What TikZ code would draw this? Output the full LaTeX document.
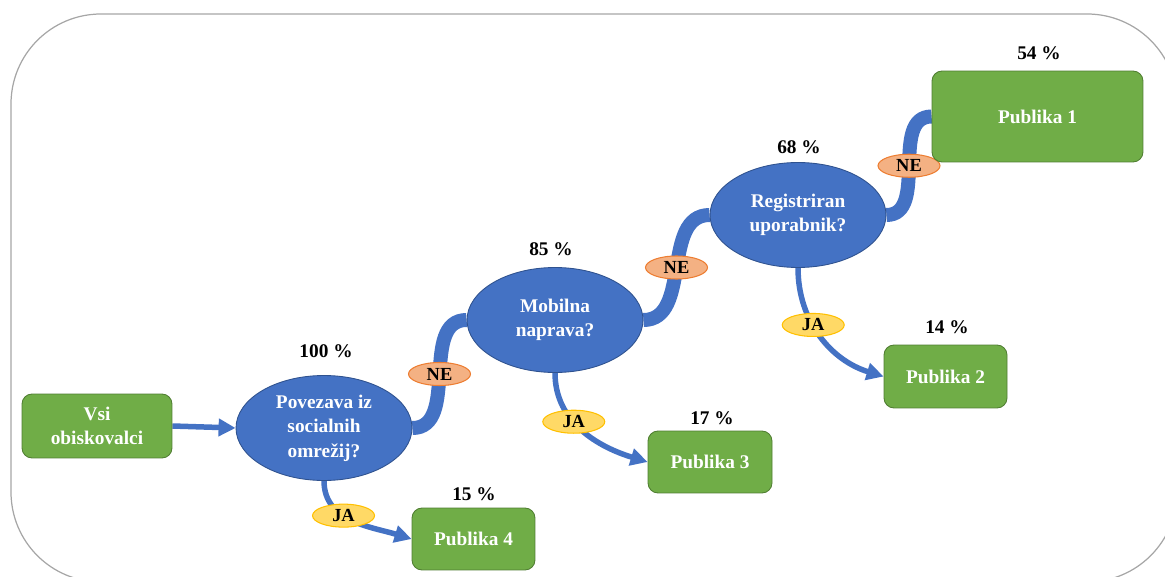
\documentclass[tikz,border=0pt]{standalone}
\usepackage{fontspec}
\setmainfont{Liberation Serif}
\usetikzlibrary{shapes,arrows.meta,positioning,backgrounds}
\definecolor{boxgreen}{HTML}{70AD47}
\definecolor{boxline}{HTML}{507E32}
\definecolor{qblue}{HTML}{4472C4}
\definecolor{qline}{HTML}{2F528F}
\definecolor{nofill}{HTML}{F4B183}
\definecolor{noline}{HTML}{ED7D31}
\definecolor{yesfill}{HTML}{FFD966}
\definecolor{yesline}{HTML}{FFC000}

\begin{document}
\begin{tikzpicture}
[x=0.02cm,y=-0.02cm,
font=\fontsize{11}{14}\selectfont\bfseries,
%
box/.style={shape=rectangle,rounded corners=0.2cm,draw=boxline,fill=boxgreen,text=white,align=center,line width=0.5pt},
question/.style={shape=ellipse,draw=qline,fill=qblue,text=white,align=center,inner sep=0pt,minimum width=3.52cm,minimum height=2.1cm,line width=0.5pt},
pct/.style={text=black,inner sep=1pt},
answer/.style={shape=ellipse,inner sep=0pt,minimum width=1.24cm,minimum height=0.46cm,line width=0.6pt,text=black,font=\fontsize{10.5}{12}\selectfont\bfseries},
nolabel/.style={answer,draw=noline,fill=nofill},
yeslabel/.style={answer,draw=yesline,fill=yesfill},
%
noedge/.style={draw=qblue,line width=0.28cm},
yesedge/.style={draw=qblue,line width=0.11cm,-{Triangle[length=0.34cm,width=0.34cm]}}]
%
\useasboundingbox (0,0) rectangle (1165,577);
%
% start
\node (vsi) [box,minimum width=3cm,minimum height=1.28cm] at (97,426) {Vsi\\obiskovalci};
% questions
\node (q1) [question] at (324,428) {Povezava iz\\socialnih\\omrežij?};
\node (q2) [question] at (555,320) {Mobilna\\naprava?};
\node (q3) [question] at (798,215) {Registriran\\uporabnik?};
% audiences
\node (p1) [box,minimum width=4.22cm,minimum height=1.82cm] at (1037.5,116.5) {Publika 1};
\node (p2) [box,minimum width=2.46cm,minimum height=1.26cm] at (945.5,376.5) {Publika 2};
\node (p3) [box,minimum width=2.48cm,minimum height=1.24cm] at (710,462) {Publika 3};
\node (p4) [box,minimum width=2.46cm,minimum height=1.24cm] at (473.5,539) {Publika 4};
% shares
\node (s1) [pct] at (326,351) {100 \%};
\node (s2) [pct] at (551,249) {85 \%};
\node (s3) [pct] at (799,147) {68 \%};
\node (s4) [pct] at (1039,53) {54 \%};
\node (s5) [pct] at (947,327) {14 \%};
\node (s6) [pct] at (712,418) {17 \%};
\node (s7) [pct] at (474,494) {15 \%};
%
\begin{pgfonlayer}{background}
\draw[gray!70,line width=0.7pt,rounded corners=1.8cm] (11,14) rectangle (1177,582);
% NE
\draw[noedge] (q1.east) to[out=0,in=180] node[nolabel] (ne1) {NE} (q2.west);
\draw[noedge] (q2.east) to[out=0,in=180] node[nolabel] (ne2) {NE} (q3.west);
\draw[noedge] (q3.east) to[out=0,in=180] node[nolabel] (ne3) {NE} (p1.west);
% JA
\draw[yesedge] (vsi.east) -- (q1.west);
\draw[yesedge] (q1.south) to[out=-90,in=163] node[yeslabel,pos=.4] (ja1) {JA} (p4.west);
\draw[yesedge] (q2.south) to[out=-90,in=163] node[yeslabel,pos=.4] (ja2) {JA} (p3.west);
\draw[yesedge] (q3.south) to[out=-90,in=163] node[yeslabel,pos=.4] (ja3) {JA} (p2.west);
\end{pgfonlayer}
\end{tikzpicture}
\end{document}
